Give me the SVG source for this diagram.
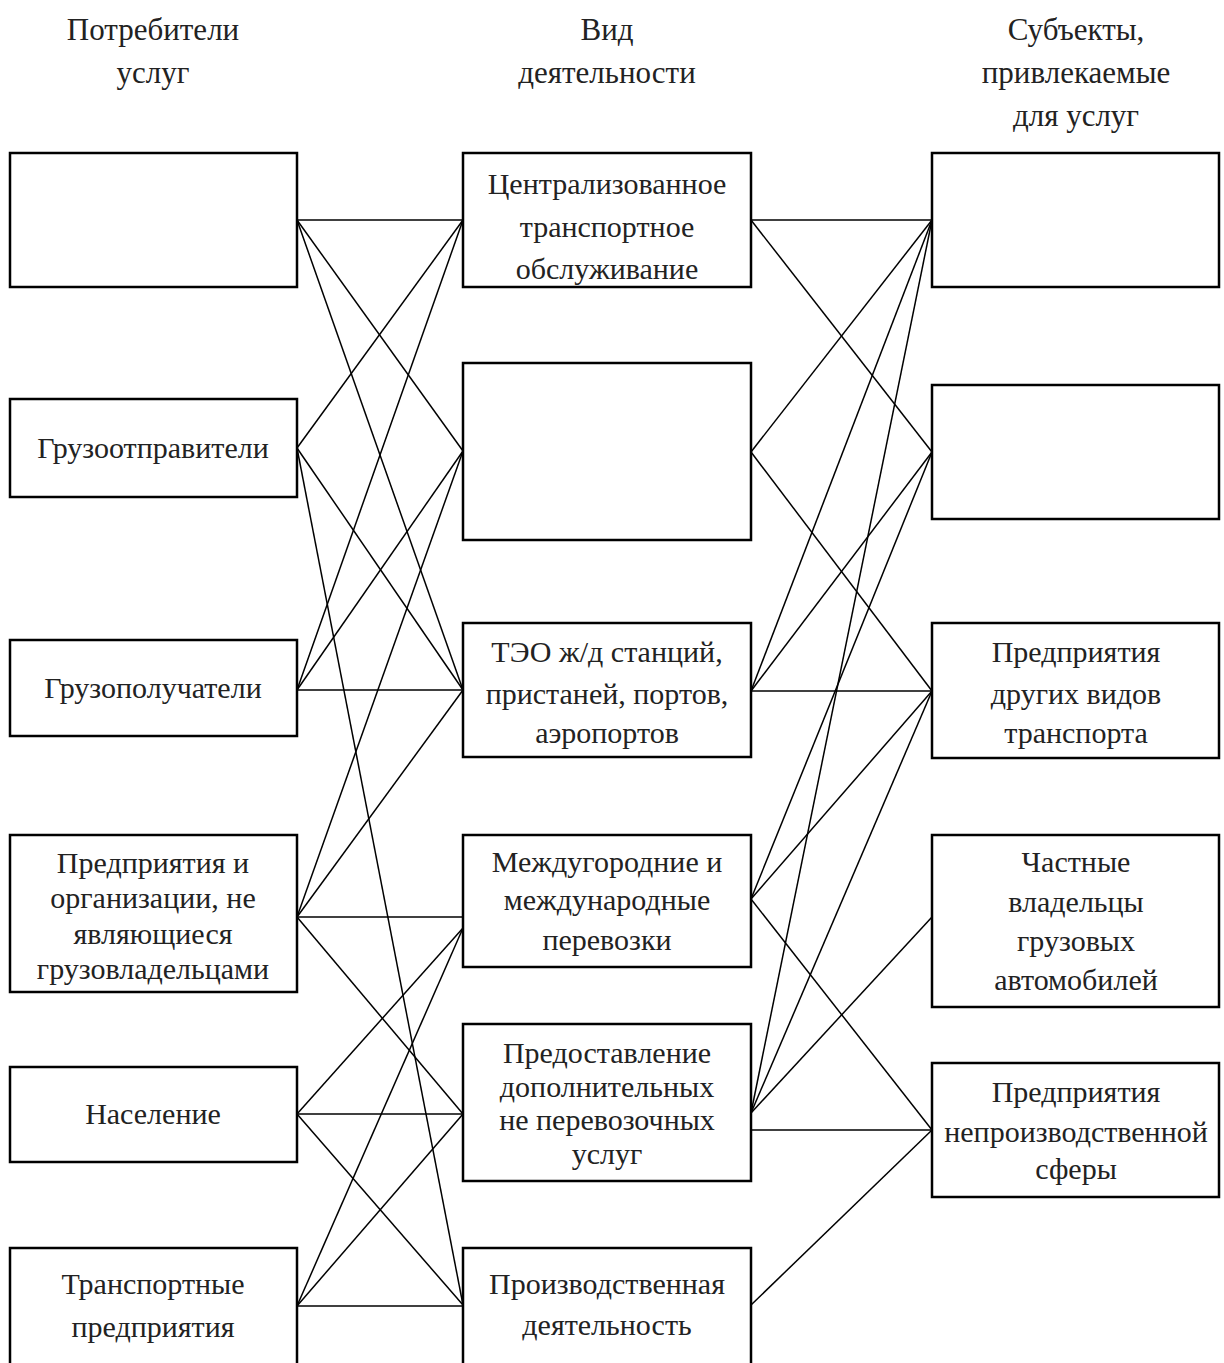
<svg xmlns="http://www.w3.org/2000/svg" width="1224" height="1363" viewBox="0 0 1224 1363">
<style>
.box{fill:#fff;stroke:#000;stroke-width:2.5}
.t{font-family:"Liberation Serif","Times New Roman",serif;font-size:30px;fill:#222;text-anchor:middle}
.h{font-family:"Liberation Serif","Times New Roman",serif;font-size:31px;fill:#222;text-anchor:middle}
.c line{stroke:#000;stroke-width:1.5}
</style>
<rect width="1224" height="1363" fill="#fff"/>
<g id="headers">
<text class="h" x="153" y="40">Потребители</text>
<text class="h" x="153" y="83">услуг</text>
<text class="h" x="607" y="40">Вид</text>
<text class="h" x="607" y="83">деятельности</text>
<text class="h" x="1076" y="40">Субъекты,</text>
<text class="h" x="1076" y="83">привлекаемые</text>
<text class="h" x="1076" y="126">для услуг</text>
</g>
<g id="connectors" class="c">
<line x1="297" y1="220" x2="463" y2="220"/>
<line x1="297" y1="220" x2="463" y2="451"/>
<line x1="297" y1="220" x2="463" y2="690"/>
<line x1="297" y1="448" x2="463" y2="220"/>
<line x1="297" y1="448" x2="463" y2="690"/>
<line x1="297" y1="448" x2="463" y2="1305"/>
<line x1="297" y1="690" x2="463" y2="220"/>
<line x1="297" y1="690" x2="463" y2="451"/>
<line x1="297" y1="690" x2="463" y2="690"/>
<line x1="297" y1="917" x2="463" y2="451"/>
<line x1="297" y1="917" x2="463" y2="690"/>
<line x1="297" y1="917" x2="463" y2="917"/>
<line x1="297" y1="917" x2="463" y2="1114"/>
<line x1="297" y1="1114" x2="463" y2="928"/>
<line x1="297" y1="1114" x2="463" y2="1114"/>
<line x1="297" y1="1114" x2="463" y2="1305"/>
<line x1="297" y1="1306" x2="463" y2="928"/>
<line x1="297" y1="1306" x2="463" y2="1114"/>
<line x1="297" y1="1306" x2="463" y2="1306"/>
<line x1="751" y1="220" x2="932" y2="220"/>
<line x1="751" y1="220" x2="932" y2="452"/>
<line x1="751" y1="452" x2="932" y2="220"/>
<line x1="751" y1="452" x2="932" y2="691"/>
<line x1="751" y1="691" x2="932" y2="220"/>
<line x1="751" y1="691" x2="932" y2="452"/>
<line x1="751" y1="691" x2="932" y2="691"/>
<line x1="751" y1="899" x2="932" y2="452"/>
<line x1="751" y1="899" x2="932" y2="691"/>
<line x1="751" y1="899" x2="932" y2="1130"/>
<line x1="751" y1="1113" x2="932" y2="220"/>
<line x1="751" y1="1113" x2="932" y2="691"/>
<line x1="751" y1="1113" x2="932" y2="917"/>
<line x1="751" y1="1130" x2="932" y2="1130"/>
<line x1="751" y1="1305" x2="932" y2="1130"/>
</g>
<g id="L1"><rect class="box" x="10" y="153" width="287" height="134"/></g>
<g id="L2"><rect class="box" x="10" y="399" width="287" height="98"/><text class="t" x="153" y="458">Грузоотправители</text></g>
<g id="L3"><rect class="box" x="10" y="640" width="287" height="96"/><text class="t" x="153" y="698">Грузополучатели</text></g>
<g id="L4"><rect class="box" x="10" y="835" width="287" height="157"/>
<text class="t" x="153" y="873">Предприятия и</text>
<text class="t" x="153" y="908">организации, не</text>
<text class="t" x="153" y="944">являющиеся</text>
<text class="t" x="153" y="979">грузовладельцами</text></g>
<g id="L5"><rect class="box" x="10" y="1067" width="287" height="95"/><text class="t" x="153" y="1124">Население</text></g>
<g id="L6"><rect class="box" x="10" y="1248" width="287" height="140"/>
<text class="t" x="153" y="1294">Транспортные</text>
<text class="t" x="153" y="1337">предприятия</text></g>
<g id="M1"><rect class="box" x="463" y="153" width="288" height="134"/>
<text class="t" x="607" y="194">Централизованное</text>
<text class="t" x="607" y="237">транспортное</text>
<text class="t" x="607" y="279">обслуживание</text></g>
<g id="M2"><rect class="box" x="463" y="363" width="288" height="177"/></g>
<g id="M3"><rect class="box" x="463" y="623" width="288" height="134"/>
<text class="t" x="607" y="662">ТЭО ж/д станций,</text>
<text class="t" x="607" y="704">пристаней, портов,</text>
<text class="t" x="607" y="743">аэропортов</text></g>
<g id="M4"><rect class="box" x="463" y="835" width="288" height="132"/>
<text class="t" x="607" y="872">Междугородние и</text>
<text class="t" x="607" y="910">международные</text>
<text class="t" x="607" y="950">перевозки</text></g>
<g id="M5"><rect class="box" x="463" y="1024" width="288" height="157"/>
<text class="t" x="607" y="1063">Предоставление</text>
<text class="t" x="607" y="1097">дополнительных</text>
<text class="t" x="607" y="1130">не перевозочных</text>
<text class="t" x="607" y="1164">услуг</text></g>
<g id="M6"><rect class="box" x="463" y="1248" width="288" height="140"/>
<text class="t" x="607" y="1294">Производственная</text>
<text class="t" x="607" y="1335">деятельность</text></g>
<g id="R1"><rect class="box" x="932" y="153" width="287" height="134"/></g>
<g id="R2"><rect class="box" x="932" y="385" width="287" height="134"/></g>
<g id="R3"><rect class="box" x="932" y="623" width="287" height="135"/>
<text class="t" x="1076" y="662">Предприятия</text>
<text class="t" x="1076" y="704">других видов</text>
<text class="t" x="1076" y="743">транспорта</text></g>
<g id="R4"><rect class="box" x="932" y="835" width="287" height="172"/>
<text class="t" x="1076" y="872">Частные</text>
<text class="t" x="1076" y="912">владельцы</text>
<text class="t" x="1076" y="951">грузовых</text>
<text class="t" x="1076" y="990">автомобилей</text></g>
<g id="R5"><rect class="box" x="932" y="1063" width="287" height="134"/>
<text class="t" x="1076" y="1102">Предприятия</text>
<text class="t" x="1076" y="1142">непроизводственной</text>
<text class="t" x="1076" y="1179">сферы</text></g>
</svg>
